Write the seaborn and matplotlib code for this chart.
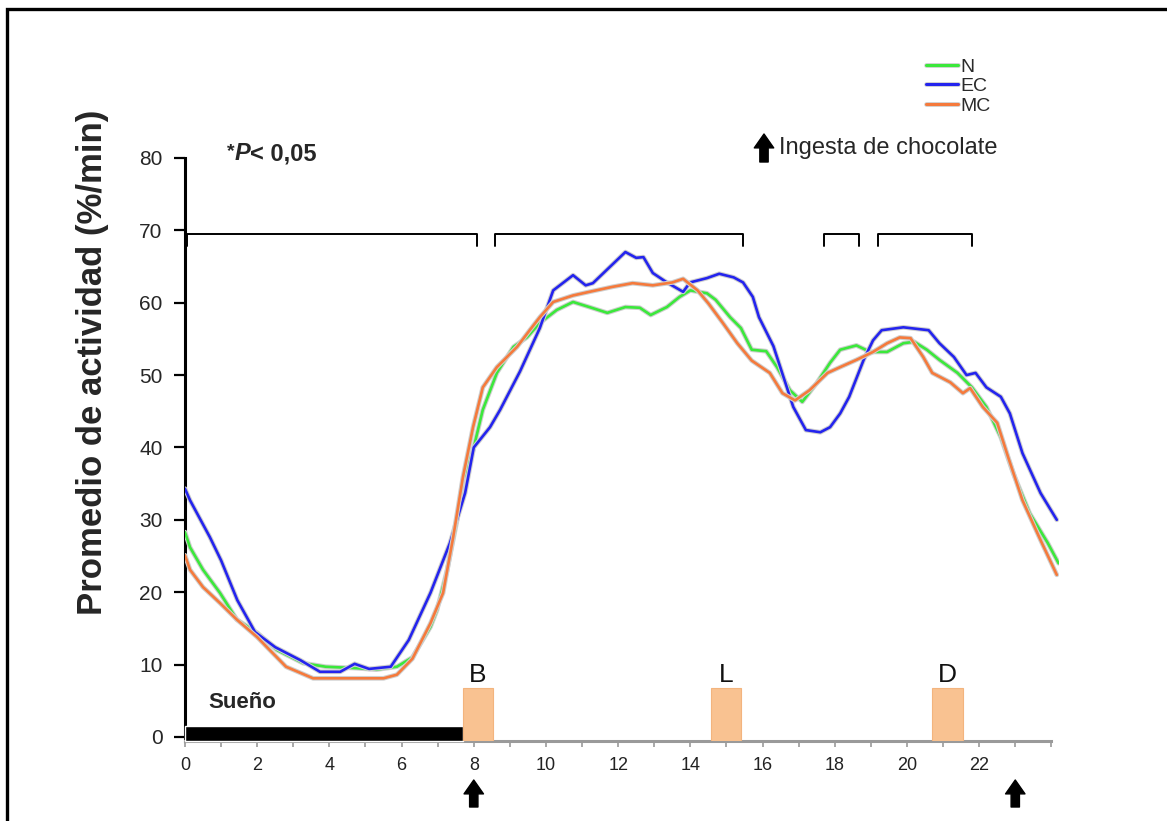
import matplotlib
matplotlib.use("Agg")
import matplotlib.pyplot as plt
import matplotlib.patheffects as pe
from matplotlib.lines import Line2D
from matplotlib.patches import Rectangle
import pandas as pd
import seaborn as sns

sns.set_style("ticks")
plt.rcParams["font.family"] = ["Liberation Sans", "DejaVu Sans"]

# --- data ----------------------------------------------------------------
hours_n = [0, 0.14, 0.5, 0.97, 1.44, 2.0, 2.55, 3.27, 3.9, 4.76, 5.3, 5.87, 6.3, 6.8, 6.98,
           7.26, 7.54, 7.7, 7.98, 8.25, 8.64, 9.1, 9.47, 9.83, 10.3, 10.75, 11.2, 11.7, 12.2,
           12.6, 12.9, 13.35, 13.7, 14.0, 14.46, 14.7, 15.1, 15.4, 15.7, 16.1, 16.4, 16.76,
           17.1, 17.5, 17.87, 18.15, 18.6, 18.98, 19.45, 19.9, 20.2, 20.55, 20.9, 21.4, 21.8,
           22.2, 22.6, 22.94, 23.4, 23.9, 24.2]
act_n = [28.3, 26.2, 23.1, 19.9, 16.2, 14.4, 12.0, 10.2, 9.7, 9.5, 9.3, 9.7, 11.0, 15.2, 17.5,
         23.0, 30.0, 35.5, 39.6, 45.2, 50.3, 53.9, 55.2, 57.2, 59.0, 60.1, 59.4, 58.6, 59.4,
         59.3, 58.3, 59.4, 60.8, 61.7, 61.3, 60.4, 58.0, 56.5, 53.5, 53.3, 51.1, 47.9,
         46.3, 48.9, 51.7, 53.5, 54.1, 53.2, 53.2, 54.4, 54.6, 53.5, 52.1, 50.3, 48.3,
         45.6, 41.4, 36.5, 30.9, 26.8, 24.0]

hours_ec = [0, 0.14, 0.69, 1.0, 1.45, 1.94, 2.5, 3.2, 3.74, 4.3, 4.7, 5.1, 5.7, 6.2, 6.8,
            7.34, 7.76, 8.0, 8.45, 8.73, 9.28, 9.83, 10.2, 10.75, 11.1, 11.3, 12.2, 12.5,
            12.7, 12.96, 13.35, 13.8, 13.99, 14.46, 14.8, 15.2, 15.46, 15.73, 15.9, 16.3,
            16.85, 17.2, 17.6, 17.87, 18.15, 18.4, 18.8, 19.06, 19.3, 19.9, 20.6, 20.9, 21.3,
            21.65, 21.9, 22.2, 22.6, 22.85, 23.2, 23.7, 24.15]
act_ec = [34.3, 32.7, 27.6, 24.4, 18.9, 14.5, 12.4, 10.6, 9.0, 9.0, 10.1, 9.4, 9.7, 13.4, 19.9,
          26.8, 33.7, 40.0, 42.8, 45.2, 50.5, 56.5, 61.7, 63.8, 62.4, 62.7, 67.0, 66.2,
          66.3, 64.1, 62.8, 61.5, 62.8, 63.4, 64.0, 63.5, 62.8, 60.8, 58.0, 54.0,
          45.6, 42.4, 42.1, 42.8, 44.7, 47.0, 52.1, 54.8, 56.2, 56.6, 56.2, 54.4, 52.5,
          50.0, 50.3, 48.3, 47.0, 44.7, 39.2, 33.7, 30.0]

hours_mc = [0, 0.14, 0.5, 0.97, 1.44, 2.0, 2.35, 2.8, 3.55, 4.2, 5.1, 5.5, 5.87, 6.3, 6.8,
            7.15, 7.43, 7.7, 7.98, 8.25, 8.64, 9.2, 9.55, 9.83, 10.2, 10.75, 11.2, 11.85,
            12.4, 12.96, 13.5, 13.8, 14.2, 14.5, 14.9, 15.3, 15.7, 16.2, 16.55, 16.9, 17.3,
            17.8, 18.15, 18.6, 19.06, 19.45, 19.8, 20.1, 20.45, 20.7, 21.2, 21.55, 21.75,
            22.1, 22.5, 22.8, 23.2, 23.7, 24.15]
act_mc = [25.1, 23.1, 20.7, 18.5, 16.2, 13.8, 12.0, 9.7, 8.1, 8.1, 8.1, 8.1, 8.6, 10.8, 15.7,
          19.9, 27.6, 35.9, 42.8, 48.3, 51.1, 53.9, 56.2, 58.0, 60.1, 61.0, 61.5, 62.2,
          62.7, 62.4, 62.8, 63.3, 61.7, 59.9, 57.2, 54.4, 52.0, 50.3, 47.5, 46.5, 47.9,
          50.3, 51.1, 52.1, 53.2, 54.4, 55.2, 55.1, 52.5, 50.3, 49.0, 47.5, 48.2,
          45.6, 43.4, 38.7, 32.7, 27.2, 22.4]

groups = ["N", "EC", "MC"]
colors = {"N": "#3BE83B", "EC": "#2424EE", "MC": "#F57A3C"}

# meals (B, L, D) and sleep period
meal_labels = ["B", "L", "D"]
meal_start = [7.7, 14.57, 20.7]
meal_width = [0.83, 0.83, 0.85]
meal_height = 7.4
sleep_start, sleep_end = 0.0, 7.7

# significance brackets (start, end)
bracket_spans = [(0.05, 8.1), (8.6, 15.45), (17.7, 18.67), (19.2, 21.8)]
bracket_level = 69.5

# chocolate intake times
choc_hours = [8, 23]

x_major = list(range(0, 24, 2))
x_minor = list(range(0, 25))
y_ticks = list(range(0, 81, 10))

df = pd.concat([
    pd.DataFrame({"hora": hours_n, "actividad": act_n, "grupo": "N"}),
    pd.DataFrame({"hora": hours_ec, "actividad": act_ec, "grupo": "EC"}),
    pd.DataFrame({"hora": hours_mc, "actividad": act_mc, "grupo": "MC"}),
], ignore_index=True)

# --- figure ---------------------------------------------------------------
W, H = 1167, 821
fig = plt.figure(figsize=(W / 100, H / 100), dpi=100)
ax = fig.add_axes([0.1585, 0.0971, 0.7486, 0.7105])

halo = [pe.Stroke(linewidth=3.4, foreground="#cfcfcf"), pe.Normal()]

sns.lineplot(data=df, x="hora", y="actividad", hue="grupo", hue_order=groups,
             palette=colors, sort=False, estimator=None, linewidth=1.9,
             legend=False, ax=ax, zorder=3)
for line in ax.lines:
    line.set_path_effects(halo)

ax.set_xlim(0, 24.2)
ax.set_ylim(-0.6, 80)

# sleep bar and meal boxes
ax.bar(sleep_start, 2.1, width=sleep_end - sleep_start, bottom=-0.6, align="edge",
       color="black", zorder=4, clip_on=False)
ax.bar(meal_start, meal_height, width=meal_width, bottom=-0.6, align="edge",
       color="#F9C291", edgecolor="#F3B47E", linewidth=0.8, zorder=4)
for lab, s, w in zip(meal_labels, meal_start, meal_width):
    ax.text(s + w / 2, meal_height - 0.5, lab, ha="center", va="bottom", fontsize=19,
            color="#111111")
ax.text(0.64, 4.7, "Sueño", fontsize=16, fontweight="bold", va="center", ha="left")

# brackets
for x0, x1 in bracket_spans:
    ax.plot([x0, x0, x1, x1], [bracket_level - 1.6, bracket_level, bracket_level,
                               bracket_level - 1.6],
            color="black", linewidth=1.4, clip_on=False, zorder=5)

# significance text: "*P< 0,05"
t1 = ax.text(1.15, 80.9, "*", fontsize=14, fontweight="bold", va="center", ha="left",
             clip_on=False)
t2 = ax.annotate("P", xy=(1, 0.35), xycoords=t1, va="center", ha="left", fontsize=17,
                 fontweight="bold", fontstyle="italic")
ax.annotate("< 0,05", xy=(1, 0.5), xycoords=t2, va="center", ha="left", fontsize=17,
            fontweight="bold")

# axes styling
ax.set_xticks(x_major)
ax.set_xticks(x_minor, minor=True)
ax.set_yticks(y_ticks)
ax.tick_params(axis="x", which="both", length=4, width=1.2, color="#9a9a9a",
               labelsize=13, labelcolor="#222222", pad=7)
ax.tick_params(axis="y", length=8, width=1.6, color="black", labelsize=15, pad=8)
sns.despine(ax=ax)
ax.spines["left"].set_linewidth(2.2)
ax.spines["left"].set_color("black")
ax.spines["bottom"].set_linewidth(2.2)
ax.spines["bottom"].set_color("#9a9a9a")
ax.spines["bottom"].set_bounds(0, 24)
ax.set_xlabel("")
ax.set_ylabel("")

fig.text(93 / W, 1 - 362 / H, "Promedio de actividad (%/min)", rotation=90,
         ha="center", va="center", fontsize=25, fontweight="bold")

# chocolate arrows under the x axis
arrow_props = dict(arrowstyle="simple,head_length=0.5,head_width=0.7,tail_width=0.3",
                   color="black", shrinkA=0, shrinkB=0, mutation_scale=20)
for hx in choc_hours:
    ax.annotate("", xy=(hx, H - 780), xytext=(hx, H - 807),
                xycoords=("data", "figure pixels"), textcoords=("data", "figure pixels"),
                arrowprops=arrow_props, annotation_clip=False)

# "Ingesta de chocolate" key
ax.annotate("", xy=(764, H - 134), xytext=(764, H - 162), xycoords="figure pixels",
            textcoords="figure pixels", arrowprops=arrow_props, annotation_clip=False)
fig.text(779 / W, 1 - 148 / H, "Ingesta de chocolate", fontsize=17, ha="left",
         va="center")

# legend
handles = [Line2D([], [], color=colors[g], linewidth=2.2, path_effects=halo) for g in groups]
leg = fig.legend(handles, groups, loc="upper left", bbox_to_anchor=(926 / W, 1 - 58 / H),
                 frameon=False, fontsize=14, handlelength=1.65, handletextpad=0.12,
                 labelspacing=0.1, borderpad=0, borderaxespad=0)
for txt in leg.get_texts():
    txt.set_color("#2a2a2a")

# outer frame (runs off the right and bottom of the image)
fig.patches.append(Rectangle((7 / W, -0.1), 1.2, 1 - 9 / H + 0.1, transform=fig.transFigure,
                             fill=False, edgecolor="black", linewidth=2.4))

fig.savefig("out.png", dpi=100)
